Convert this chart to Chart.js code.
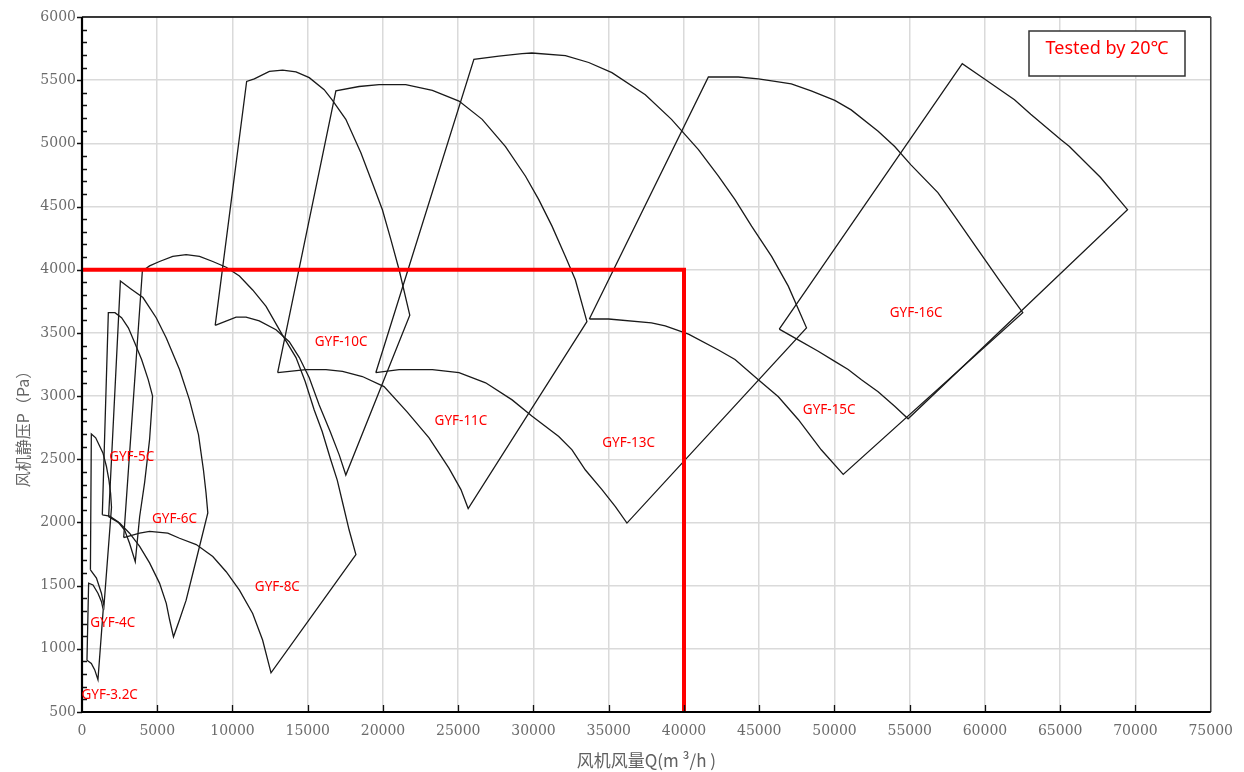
<!DOCTYPE html>
<html>
<head>
<meta charset="utf-8">
<title>GYF fan curves</title>
<script src="https://cdn.jsdelivr.net/npm/chart.js@4.4.0/dist/chart.umd.min.js"></script>
<style>
    html, body { margin: 0; padding: 0; background: #fff; }
    #wrap { width: 1244px; height: 772px; }
</style>
</head>
<body>
<div id="wrap"><canvas id="fan-canvas" width="1244" height="772"></canvas></div>
<script>
// --- axis ranges ---
const qMin = 0, qMax = 75000, qStep = 5000;
const pMin = 500, pMax = 6000, pStep = 500, pMinor = 100;

// --- fan outlines (Q in m3/h, P in Pa) ---
// each one traced as: left edge up, top curve, right edge down, bottom curve back
const gyf32Q = [330, 440, 730, 1060, 1290, 1410, 1060, 840, 620, 330];
const gyf32P = [910, 1520, 1505, 1440, 1375, 1310, 755, 835, 885, 910];

const gyf4Q = [560, 620, 910, 1130, 1390, 1620, 1790, 1900, 1960, 1460, 1290, 960, 560];
const gyf4P = [1625, 2700, 2670, 2615, 2550, 2445, 2335, 2230, 2120, 1340, 1440, 1560, 1625];

const gyf5Q = [1350, 1750, 2190, 2630, 3080, 3510, 3960, 4400, 4690, 4490, 4160, 3830, 3540, 3160, 2830, 2390, 1840, 1350];
const gyf5P = [2060, 3660, 3660, 3620, 3540, 3420, 3290, 3130, 3000, 2655, 2315, 2045, 1690, 1835, 1940, 2005, 2050, 2060];

const gyf6Q = [1770, 2550, 3230, 4050, 4930, 5600, 6480, 7140, 7740, 8070, 8240, 8360, 7590, 6920, 6480, 6080, 5820, 5600, 5150, 4490, 3830, 3160, 2500, 1770];
const gyf6P = [2045, 3910, 3850, 3780, 3620, 3460, 3210, 2970, 2695, 2415, 2235, 2075, 1705, 1385, 1230, 1095, 1230, 1360, 1520, 1680, 1810, 1915, 1995, 2045];

const gyf8Q = [2770, 4010, 4490, 5150, 6030, 6920, 7810, 8690, 9580, 10460, 11340, 12230, 13310, 14220, 14830, 15430, 15960, 16490, 16960, 17350, 17750, 18200, 12560, 12000, 11340, 10460, 9580, 8690, 7590, 6480, 5700, 4490, 3830, 2770];
const gyf8P = [1880, 3990, 4030, 4065, 4105, 4120, 4105, 4065, 4020, 3950, 3840, 3710, 3485, 3305, 3115, 2890, 2720, 2510, 2335, 2140, 1940, 1745, 810, 1070, 1280, 1465, 1610, 1730, 1825, 1875, 1915, 1930, 1915, 1880];

const gyf10Q = [8850, 10940, 11450, 12450, 13330, 14220, 15100, 16090, 16620, 17530, 18530, 19300, 19960, 20520, 21070, 21780, 17530, 17090, 16490, 15760, 15100, 14440, 13770, 12890, 11780, 10900, 10240, 8850];
const gyf10P = [3560, 5490, 5510, 5570, 5580, 5565, 5520, 5425, 5345, 5190, 4925, 4685, 4475, 4240, 4000, 3640, 2375, 2535, 2720, 2930, 3145, 3305, 3430, 3525, 3595, 3625, 3625, 3560];

const gyf11Q = [13000, 16870, 18410, 19740, 21510, 23280, 25050, 26590, 28140, 29470, 30350, 31230, 32120, 32780, 33550, 25660, 25180, 24380, 23060, 21600, 20070, 18630, 17310, 16210, 14880, 13000];
const gyf11P = [3185, 5415, 5450, 5465, 5465, 5420, 5335, 5190, 4975, 4740, 4555, 4345, 4105, 3920, 3590, 2110, 2260, 2430, 2670, 2875, 3075, 3155, 3195, 3210, 3210, 3185];

const gyf13Q = [19520, 26040, 27700, 29240, 29890, 32120, 33670, 35210, 37430, 39170, 40960, 42290, 43390, 44490, 45820, 46930, 48140, 36210, 35440, 34550, 33450, 32560, 31680, 29910, 28580, 26820, 25050, 23280, 21070, 19520];
const gyf13P = [3185, 5665, 5690, 5710, 5715, 5695, 5640, 5560, 5385, 5190, 4950, 4740, 4555, 4345, 4105, 3870, 3540, 1995, 2125, 2260, 2415, 2575, 2680, 2840, 2970, 3105, 3185, 3210, 3210, 3185];

const gyf15Q = [33710, 41620, 43610, 44940, 46050, 47130, 48450, 50020, 51110, 52900, 54000, 55080, 56870, 57980, 59530, 61050, 62510, 50580, 49120, 47590, 46270, 44940, 43390, 42290, 40300, 38750, 37840, 34990, 33710];
const gyf15P = [3610, 5525, 5525, 5510, 5490, 5470, 5415, 5340, 5265, 5095, 4975, 4830, 4610, 4425, 4160, 3900, 3660, 2380, 2575, 2815, 2995, 3130, 3290, 3365, 3490, 3555, 3580, 3610, 3610];

const gyf16Q = [46330, 58490, 59970, 61960, 63040, 65030, 65610, 67680, 69470, 54890, 54000, 52900, 51790, 50910, 50020, 48920, 47590, 46330];
const gyf16P = [3530, 5630, 5510, 5345, 5230, 5030, 4975, 4730, 4475, 2820, 2920, 3035, 3130, 3210, 3275, 3355, 3445, 3530];

// --- model labels (anchored in data units) ---
const fanLabels = ['GYF-3.2C', 'GYF-4C', 'GYF-5C', 'GYF-6C', 'GYF-8C', 'GYF-10C', 'GYF-11C', 'GYF-13C', 'GYF-15C', 'GYF-16C'];
const labelQ = [1840, 2040, 3300, 6150, 12980, 17220, 25180, 36320, 49650, 55420];
const labelP = [635, 1200, 2520, 2030, 1490, 3430, 2800, 2630, 2890, 3660];

// --- duty point guide (40000 m3/h @ 4000 Pa) ---
const refQ = [0, 40000, 40000];
const refP = [4000, 4000, 500];

const legendText = 'Tested by 20℃';
const yTitle = '风机静压P（Pa）';
const xTitle = '风机风量Q(m ³/h )';

// helper: zip two arrays into scatter points
const toPoints = (qs, ps) => qs.map((q, i) => ({ x: q, y: ps[i] }));

const fanOutlines = [
    [gyf32Q, gyf32P], [gyf4Q, gyf4P], [gyf5Q, gyf5P], [gyf6Q, gyf6P], [gyf8Q, gyf8P],
    [gyf10Q, gyf10P], [gyf11Q, gyf11P], [gyf13Q, gyf13P], [gyf15Q, gyf15P], [gyf16Q, gyf16P]
];

const datasets = fanOutlines.map(([qs, ps], i) => ({
    label: fanLabels[i],
    data: toPoints(qs, ps),
    showLine: true,
    borderColor: '#1a1a1a',
    borderWidth: 1.3,
    pointRadius: 0,
    tension: 0,
    fill: false,
    order: 2
}));

// red guide goes on top of the curves
datasets.push({
    label: 'duty',
    data: toPoints(refQ, refP),
    showLine: true,
    borderColor: '#ff0000',
    borderWidth: 4,
    pointRadius: 0,
    tension: 0,
    fill: false,
    order: 0
});

// frame, inner ticks, model names, y title and the legend box
const overlayPlugin = {
    id: 'overlay',
    afterDatasetsDraw(chart) {
        const { ctx, chartArea: a, scales: { x, y } } = chart;
        ctx.save();

        // minor ticks on the pressure axis (inside), majors poke out a little
        ctx.strokeStyle = '#111';
        ctx.lineWidth = 1.3;
        ctx.beginPath();
        for (let p = pMin; p <= pMax; p += pMinor) {
            const py = Math.round(y.getPixelForValue(p)) + 0.5;
            if (p % pStep === 0) {
                ctx.moveTo(a.left - 5, py); ctx.lineTo(a.left, py);
            } else {
                ctx.moveTo(a.left, py); ctx.lineTo(a.left + 5, py);
            }
        }
        // flow axis ticks point up into the plot
        for (let q = qMin + qStep; q < qMax; q += qStep) {
            const px = Math.round(x.getPixelForValue(q)) + 0.5;
            ctx.moveTo(px, a.bottom); ctx.lineTo(px, a.bottom - 7);
        }
        ctx.stroke();

        // plot frame
        ctx.lineWidth = 1.5;
        ctx.strokeStyle = '#000';
        ctx.beginPath();
        ctx.moveTo(a.left, a.top); ctx.lineTo(a.right, a.top);
        ctx.stroke();
        ctx.strokeStyle = '#444';
        ctx.beginPath();
        ctx.moveTo(a.right, a.top); ctx.lineTo(a.right, a.bottom);
        ctx.stroke();
        ctx.strokeStyle = '#000';
        ctx.lineWidth = 2.2;
        ctx.beginPath();
        ctx.moveTo(a.left, a.top); ctx.lineTo(a.left, a.bottom); ctx.lineTo(a.right, a.bottom);
        ctx.stroke();

        // model names
        ctx.fillStyle = '#ff0000';
        ctx.font = '13.5px "Noto Sans", sans-serif';
        ctx.textAlign = 'center';
        ctx.textBaseline = 'middle';
        fanLabels.forEach((name, i) => {
            ctx.fillText(name, x.getPixelForValue(labelQ[i]), y.getPixelForValue(labelP[i]));
        });

        // y title sits a bit below the axis middle in the original
        ctx.save();
        ctx.translate(23, 425);
        ctx.rotate(-Math.PI / 2);
        ctx.fillStyle = '#666';
        ctx.font = '16px "Noto Sans CJK SC", sans-serif';
        ctx.fillText(yTitle, 0, 0);
        ctx.restore();

        // "Tested by" box, top right
        ctx.fillStyle = '#fff';
        ctx.fillRect(1029, 31, 156, 45);
        ctx.strokeStyle = '#333';
        ctx.lineWidth = 1.5;
        ctx.strokeRect(1029, 31, 156, 45);
        ctx.fillStyle = '#ff0000';
        ctx.font = '18px "Noto Sans", sans-serif';
        ctx.fillText(legendText, 1107, 49);

        ctx.restore();
    }
};

const tickFont = { family: '"DejaVu Serif", serif', size: 14 };

new Chart(document.getElementById('fan-canvas'), {
    type: 'scatter',
    data: { datasets: datasets },
    options: {
        responsive: false,
        animation: false,
        devicePixelRatio: 1,
        layout: { padding: { top: 17, right: 31, bottom: 0, left: 0 } },
        plugins: {
            legend: { display: false },
            tooltip: { enabled: false }
        },
        scales: {
            x: {
                type: 'linear',
                min: qMin,
                max: qMax,
                afterFit: (s) => { s.height = 60; },
                ticks: {
                    stepSize: qStep,
                    color: '#6b6b6b',
                    font: tickFont,
                    padding: 11,
                    maxRotation: 0,
                    callback: (v) => String(v)
                },
                grid: { color: '#dadada', lineWidth: 1.5, drawTicks: false },
                border: { display: false },
                title: {
                    display: true,
                    text: xTitle,
                    color: '#606060',
                    font: { family: '"Noto Sans CJK SC", sans-serif', size: 17 },
                    padding: { top: 0, bottom: 1 }
                }
            },
            y: {
                type: 'linear',
                min: pMin,
                max: pMax,
                afterFit: (s) => { s.width = 82; },
                ticks: {
                    stepSize: pStep,
                    color: '#6b6b6b',
                    font: tickFont,
                    padding: 6,
                    callback: (v) => String(v)
                },
                grid: { color: '#dadada', lineWidth: 1.5, drawTicks: false },
                border: { display: false },
                title: { display: false }
            }
        }
    },
    plugins: [overlayPlugin]
});
</script>
</body>
</html>
